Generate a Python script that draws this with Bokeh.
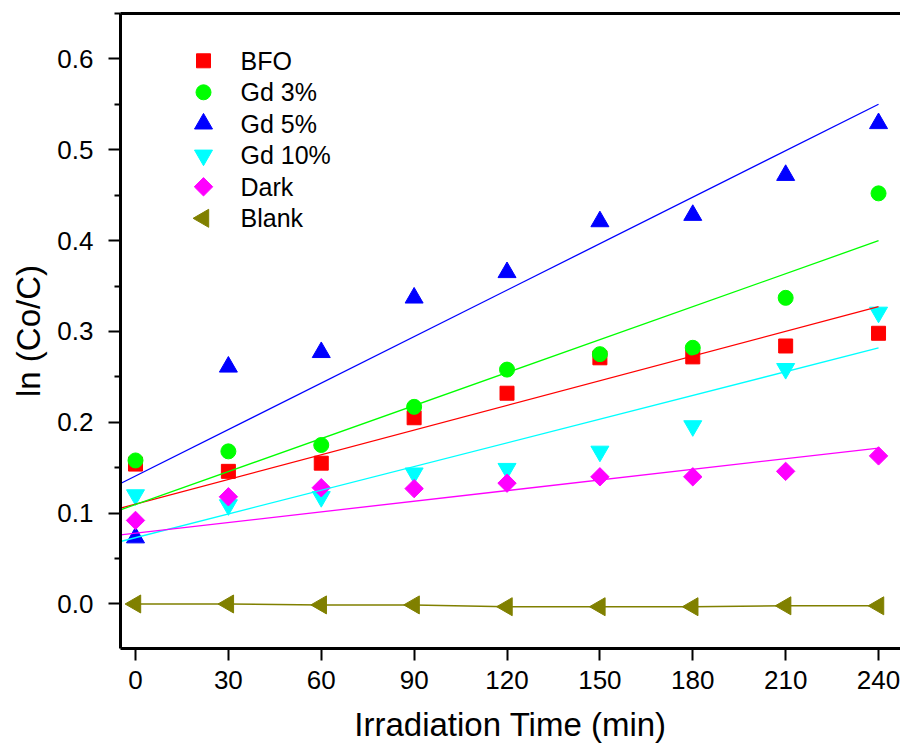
import numpy as np
from bokeh.plotting import figure
from bokeh.models import (Range1d, LinearAxis, FixedTicker, PrintfTickFormatter)
from bokeh.core.properties import value
from bokeh.embed import file_html
from bokeh.resources import INLINE

# ---- data ----
times = [0, 30, 60, 90, 120, 150, 180, 210, 240]
bfo = [0.154, 0.146, 0.155, 0.205, 0.232, 0.271, 0.272, 0.284, 0.298]
gd3 = [0.158, 0.168, 0.175, 0.217, 0.258, 0.275, 0.282, 0.337, 0.452]
gd5 = [0.073, 0.261, 0.277, 0.337, 0.365, 0.421, 0.428, 0.472, 0.529]
gd10 = [0.120, 0.109, 0.118, 0.144, 0.149, 0.168, 0.196, 0.259, 0.321]
dark = [0.092, 0.118, 0.128, 0.127, 0.133, 0.140, 0.140, 0.146, 0.163]
blank = [0.0, 0.0, -0.001, -0.001, -0.003, -0.003, -0.003, -0.002, -0.002]

series_names = ["BFO", "Gd 3%", "Gd 5%", "Gd 10%", "Dark", "Blank"]
# linear fits (intercept, slope) for the first five series
fit_intercepts = [0.110, 0.1095, 0.1409, 0.073, 0.078]
fit_slopes = [0.000905, 0.00121, 0.001705, 0.00087, 0.00039]

x_ticks = [0, 30, 60, 90, 120, 150, 180, 210, 240]
y_ticks = [0.0, 0.1, 0.2, 0.3, 0.4, 0.5, 0.6]

# ---- styles ----
FONT = "Liberation Sans"
colors = ["#FF0000", "#00FF00", "#0000FF", "#00FFFF", "#FF00FF", "#808000"]
markers = ["square", "circle", "triangle", "inverted_triangle", "square", "triangle"]
sizes = [14, 15, 18, 18, 13, 18]
angles = [0, 0, 0, 0, np.pi / 4, np.pi / 2]

W, H = 900, 746
LEFT, TOP, BOTTOM = 120, 13, 98
FW, FH = W - LEFT, H - TOP - BOTTOM
X0 = -4.845
X1 = X0 + FW / 3.096
Y0, Y1 = -0.049, 0.650

p = figure(width=W, height=H, output_backend="svg", toolbar_location=None,
           x_range=Range1d(X0, X1), y_range=Range1d(Y0, Y1),
           min_border_left=LEFT, min_border_right=0, min_border_top=TOP,
           min_border_bottom=BOTTOM)
p.outline_line_color = None
p.xgrid.visible = False
p.ygrid.visible = False
p.background_fill_color = "white"
p.border_fill_color = "white"

# pixel-space ranges used only for the legend block
p.extra_x_ranges = {"px": Range1d(0, FW)}
p.extra_y_ranges = {"px": Range1d(FH, 0)}

# axes styling
p.xaxis.ticker = FixedTicker(ticks=x_ticks)
p.yaxis.ticker = FixedTicker(ticks=y_ticks,
                             minor_ticks=[y - 0.05 for y in y_ticks] + [0.65])
p.yaxis.formatter = PrintfTickFormatter(format="%.1f")
for ax in (p.xaxis[0], p.yaxis[0]):
    ax.axis_line_width = 3
    ax.axis_line_color = "black"
    ax.major_tick_line_width = 2
    ax.major_tick_out = 12
    ax.major_tick_in = 0
    ax.minor_tick_line_width = 2
    ax.minor_tick_out = 6
    ax.minor_tick_in = 0
    ax.major_label_text_font = FONT
    ax.major_label_text_font_size = "26px"
    ax.major_label_text_color = "black"
    ax.axis_label_text_font = FONT
    ax.axis_label_text_font_style = "normal"
    ax.axis_label_text_color = "black"
    ax.axis_label_text_font_size = "33px"
p.xaxis.minor_tick_out = 0
p.xaxis.minor_tick_line_color = None
p.xaxis.major_label_standoff = 10
p.yaxis.major_label_standoff = 15
p.xaxis.axis_label = "Irradiation Time (min)"
p.xaxis.axis_label_standoff = 14
p.yaxis.axis_label = "ln (Co/C)"
p.yaxis.axis_label_standoff = 7

top_axis = LinearAxis(ticker=FixedTicker(ticks=[]), axis_line_width=3,
                      major_label_text_font_size="0px", major_tick_out=0,
                      minor_tick_out=0, major_label_standoff=0)
p.add_layout(top_axis, "above")

# scatter series
series = [bfo, gd3, gd5, gd10, dark, blank]
p.line(times, blank, line_color=colors[5], line_width=1.5)
for vals, c, m, s, a in zip(series, colors, markers, sizes, angles):
    p.scatter(times, vals, marker=m, size=s, angle=a, color=c)

# fitted lines
xf = np.array([X0, 240.0])
for b, k, c in zip(fit_intercepts, fit_slopes, colors[:5]):
    p.line(xf, b + k * xf, line_color=c, line_width=1.3)

# legend block (pixel coordinates inside the frame)
n = len(series_names)
ly = [47.3 + 31.5 * i for i in range(n)]
p.scatter([83] * n, ly, marker=markers, size=sizes, angle=angles, color=colors,
          x_range_name="px", y_range_name="px")
p.text([120] * n, ly, text=series_names, text_baseline="middle",
       text_align="left", text_font=value(FONT), text_font_size="25px",
       text_color="black", x_range_name="px", y_range_name="px")

open("out.html", "w").write(file_html(p, INLINE))
